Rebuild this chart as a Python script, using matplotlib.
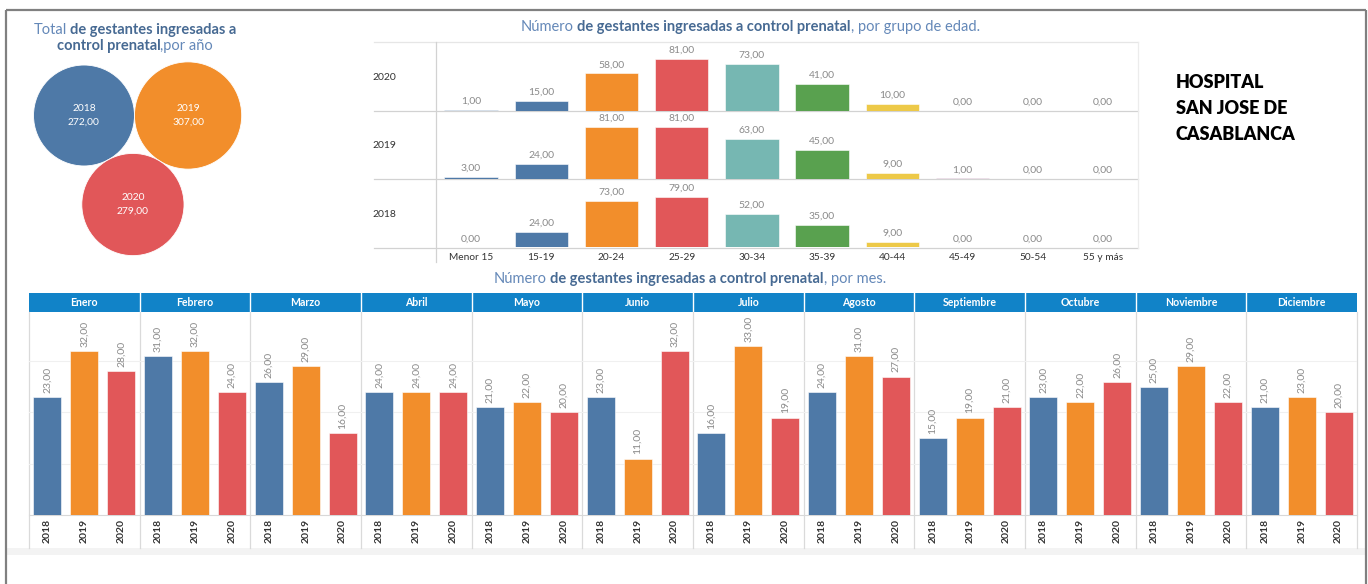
import matplotlib
matplotlib.use('Agg')
import matplotlib.pyplot as plt
from matplotlib.patches import Circle, Rectangle
import numpy as np

W, H = 1368, 584

# ---------------- DATA ----------------
years = ['2018', '2019', '2020']
year_totals = [272, 307, 279]

age_groups = ['Menor 15', '15-19', '20-24', '25-29', '30-34', '35-39',
              '40-44', '45-49', '50-54', '55 y más']
age_2020 = [1, 15, 58, 81, 73, 41, 10, 0, 0, 0]
age_2019 = [3, 24, 81, 81, 63, 45, 9, 1, 0, 0]
age_2018 = [0, 24, 73, 79, 52, 35, 9, 0, 0, 0]

months = ['Enero', 'Febrero', 'Marzo', 'Abril', 'Mayo', 'Junio', 'Julio',
          'Agosto', 'Septiembre', 'Octubre', 'Noviembre', 'Diciembre']
month_2018 = [23, 31, 26, 24, 21, 23, 16, 24, 15, 23, 25, 21]
month_2019 = [32, 32, 29, 24, 22, 11, 33, 31, 19, 22, 29, 23]
month_2020 = [28, 24, 16, 24, 20, 32, 19, 27, 21, 26, 22, 20]

hospital_lines = ['HOSPITAL', 'SAN JOSE DE', 'CASABLANCA']

# ---------------- STYLE ----------------
year_colors = ['#4e79a7', '#f28e2b', '#e15759']
age_colors = ['#4e79a7', '#4e79a7', '#f28e2b', '#e15759', '#76b7b2',
              '#59a14f', '#edc948', '#b07aa1', '#ff9da7', '#9c755f']
FAM = 'Lato'
TITLE_DARK = '#476a93'
TITLE_LIGHT = '#6488b8'
VAL_COL = '#8a8a8a'
LAB_COL = '#333333'

def fmt(v):
    return f"{v:.2f}".replace('.', ',')

fig = plt.figure(figsize=(W / 100, H / 100), dpi=100)
fig.patch.set_facecolor('white')
renderer = fig.canvas.get_renderer()

def px_axes(x0, y0, x1, y1, **kw):
    return fig.add_axes([x0 / W, 1 - y1 / H, (x1 - x0) / W, (y1 - y0) / H], **kw)

bg = px_axes(0, 0, W, H)
bg.set_xlim(0, W)
bg.set_ylim(H, 0)
bg.axis('off')
bg.set_zorder(-1)

# outer frame
bg.plot([6, 6], [10, H], color='#808080', lw=1.6, solid_capstyle='butt')
bg.plot([6, 1366], [10, 10], color='#808080', lw=1.6, solid_capstyle='butt')
bg.plot([1366, 1366], [10, H], color='#808080', lw=1.6, solid_capstyle='butt')


def text_width(s, **kw):
    t = fig.text(0, 0, s, **kw)
    w = t.get_window_extent(renderer).width
    t.remove()
    return w


def rich_line(xc, y, parts, fontsize=10.5):
    items = []
    for s, wt, col in parts:
        kw = dict(fontsize=fontsize, fontweight=wt, family=FAM)
        sw = text_width('a a', **kw) - text_width('aa', **kw)
        lead = len(s) - len(s.lstrip(' '))
        trail = len(s) - len(s.rstrip(' '))
        core = s.strip(' ')
        w = text_width(core, **kw)
        items.append((core, kw, col, lead * sw, w, trail * sw))
    total = sum(a + b + c for _, _, _, a, b, c in items)
    x = xc - total / 2
    for core, kw, col, lw_, w, tw in items:
        x += lw_
        fig.text(x / W, 1 - y / H, core, color=col, va='center', ha='left', **kw)
        x += w + tw


# ---------------- BUBBLES ----------------
rich_line(135, 30, [("Total ", 'normal', TITLE_LIGHT),
                    ("de gestantes ingresadas a", 'bold', TITLE_DARK)])
rich_line(135, 46, [("control prenatal", 'bold', TITLE_DARK),
                    (",por año", 'normal', TITLE_LIGHT)])

k = 3.06
r = [k * np.sqrt(v) for v in year_totals]
c1 = np.array([84.0, 115.5])
c2 = c1 + np.array([r[0] + r[1], 0.0])
d = r[0] + r[1]
a = r[0] + r[2]
b = r[1] + r[2]
xo = (d ** 2 + a ** 2 - b ** 2) / (2 * d)
yo = np.sqrt(a ** 2 - xo ** 2)
c3 = c1 + np.array([xo, yo])
for c, rr, col, yr, tot in zip([c1, c2, c3], r, year_colors, years, year_totals):
    bg.add_patch(Circle(c, rr, color=col, ec='white', lw=0.6))
    bg.text(c[0], c[1], f"{yr}\n{fmt(tot)}", color='white', fontsize=7.4,
            ha='center', va='center', family=FAM, linespacing=1.7)

# ---------------- AGE GROUP CHART ----------------
rich_line(750, 27, [("Número ", 'normal', TITLE_LIGHT),
                    ("de gestantes ingresadas a control prenatal", 'bold', TITLE_DARK),
                    (", por grupo de edad.", 'normal', TITLE_LIGHT)])

row_bounds = [42, 110.5, 179, 247.5]
row_data = [('2020', age_2020), ('2019', age_2019), ('2018', age_2018)]
AX0, AX1 = 436, 1138
for i, (yr, vals) in enumerate(row_data):
    y0, y1 = row_bounds[i], row_bounds[i + 1]
    ax = px_axes(AX0, y0, AX1, y1)
    ax.set_facecolor('none')
    x = np.arange(len(age_groups))
    ax.bar(x, vals, width=0.76, color=age_colors, edgecolor='white', linewidth=0.4)
    for xi, v in zip(x, vals):
        ax.annotate(fmt(v), (xi, v), xytext=(0, 3), textcoords='offset points',
                    ha='center', va='bottom', fontsize=7.5, color=VAL_COL, family=FAM)
    ax.set_xlim(-0.5, len(age_groups) - 0.5)
    ax.set_ylim(0, 107)
    for s in ax.spines.values():
        s.set_visible(False)
    ax.set_yticks([])
    if i == len(row_data) - 1:
        ax.set_xticks(x, age_groups, fontsize=7.3, color=LAB_COL, family=FAM)
        ax.tick_params(axis='x', length=0, pad=4)
    else:
        ax.set_xticks([])
    fig.text(372 / W, 1 - ((y0 + y1) / 2 + 1) / H, yr, fontsize=7.5, color=LAB_COL,
             family=FAM, ha='left', va='center')

bg.plot([374, AX1], [row_bounds[0]] * 2, color='#e6e6e6', lw=0.9)
for yb in row_bounds[1:]:
    bg.plot([374, AX1], [yb, yb], color='#d2d2d2', lw=0.9)
bg.plot([AX0, AX0], [row_bounds[0], 262], color='#d2d2d2', lw=0.9)
bg.plot([AX1, AX1], [row_bounds[0], row_bounds[-1]], color='#ececec', lw=0.9)

# ---------------- HOSPITAL ----------------
for j, line in enumerate(hospital_lines):
    fig.text(1176 / W, 1 - (82 + j * 26.5) / H, line, fontsize=13, fontweight='heavy',
             family=FAM, color='black', ha='left', va='center')

# ---------------- MONTHLY CHART ----------------
rich_line(690, 279, [("Número ", 'normal', TITLE_LIGHT),
                     ("de gestantes ingresadas a control prenatal", 'bold', TITLE_DARK),
                     (", por mes.", 'normal', TITLE_LIGHT)])

MX0, MX1 = 29, 1357
HT, HB = 293, 312
BASE = 515
PB = 548
nm = len(months)
mw = (MX1 - MX0) / nm

# header
bg.add_patch(Rectangle((MX0, HT), MX1 - MX0, HB - HT, color='#1183c8', lw=0))
for i, m in enumerate(months):
    cx = MX0 + (i + 0.5) * mw
    bg.text(cx, (HT + HB) / 2 + 0.5, m, color='white', fontsize=7.6, fontweight='bold',
            ha='center', va='center', family=FAM)
    if i > 0:
        xs = MX0 + i * mw
        bg.plot([xs, xs], [HT, HB], color='white', lw=1)
for i in range(nm + 1):
    xs = MX0 + i * mw
    bg.plot([xs, xs], [HB, PB], color='#dadada', lw=0.9)

# bottom gray band
bg.add_patch(Rectangle((7, PB), 1358, 7, color='#f3f3f3', lw=0))

axm = px_axes(MX0, HB, MX1, BASE)
axm.set_facecolor('none')
ny = len(years)
series = [month_2018, month_2019, month_2020]
for j, (vals, col) in enumerate(zip(series, year_colors)):
    xs = np.arange(nm) * ny + j
    axm.bar(xs, vals, width=0.76, color=col, edgecolor='white', linewidth=0.4, zorder=3)
    for xi, v in zip(xs, vals):
        axm.annotate(fmt(v), (xi, v), xytext=(0, 3), textcoords='offset points',
                     ha='center', va='bottom', rotation=90, fontsize=7.5,
                     color=VAL_COL, family=FAM)
for g in [10, 20, 30]:
    axm.axhline(g, color='#f0f0f0', lw=0.8, zorder=1)
axm.set_xlim(-0.5, nm * ny - 0.5)
axm.set_ylim(0, 39.6)
for s in ['top', 'left', 'right']:
    axm.spines[s].set_visible(False)
axm.spines['bottom'].set_color('#d8d8d8')
axm.set_yticks([])
axm.set_xticks(np.arange(nm * ny), years * nm, rotation=90, fontsize=7.5,
               color=LAB_COL, family=FAM, fontweight='bold')
axm.tick_params(axis='x', length=0, pad=3)

fig.savefig('out.png', dpi=100, facecolor='white')
